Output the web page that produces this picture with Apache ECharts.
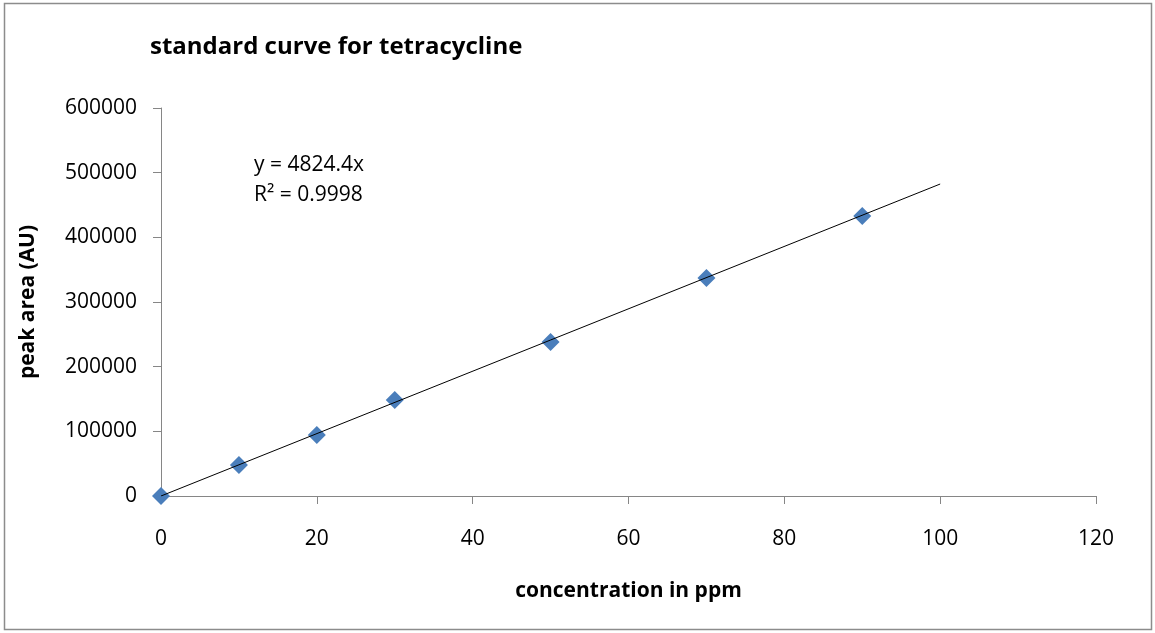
<!DOCTYPE html>
<html>
<head>
<meta charset="utf-8">
<script src="https://cdn.jsdelivr.net/npm/echarts@6/dist/echarts.min.js"></script>
<style>
html,body{margin:0;padding:0;background:#fff;}
#chart{width:1155px;height:633px;}
</style>
</head>
<body>
<div id="chart"></div>
<script>
// concentration (ppm) and peak area (AU)
var concentration = [0, 10, 20, 30, 50, 70, 90];
var peakArea = [0, 47900, 94300, 148400, 238100, 337100, 433000];
var slope = 4824.4;
var rSquared = 0.9998;
var trendX = [0, 100];

var points = [];
for (var i = 0; i < concentration.length; i++) {
    points.push([concentration[i], peakArea[i]]);
}
var trend = [];
for (var j = 0; j < trendX.length; j++) {
    trend.push([trendX[j], slope * trendX[j]]);
}

var font = '"Open Sans", "Liberation Sans", sans-serif';
var myChart = echarts.init(document.getElementById('chart'));
var option = {
    backgroundColor: '#fff',
    animation: false,
    title: {
        text: 'standard curve for tetracycline',
        left: 145,
        top: 30,
        textStyle: {fontFamily: font, fontSize: 24, fontWeight: 'bold', color: '#000'}
    },
    grid: {left: 161, right: 59, top: 108, bottom: 137},
    xAxis: {
        type: 'value',
        min: 0, max: 120, interval: 20,
        name: 'concentration in ppm',
        nameLocation: 'middle',
        nameGap: 85,
        nameTextStyle: {fontFamily: font, fontSize: 21, fontWeight: 'bold', color: '#000'},
        axisLine: {show: true, lineStyle: {color: '#868686'}},
        axisTick: {show: true, length: 8, lineStyle: {color: '#868686'}},
        axisLabel: {fontFamily: font, fontSize: 21, color: '#000', margin: 33},
        splitLine: {show: false}
    },
    yAxis: {
        type: 'value',
        min: 0, max: 600000, interval: 100000,
        name: 'peak area (AU)',
        nameLocation: 'middle',
        nameGap: 122,
        nameTextStyle: {fontFamily: font, fontSize: 21, fontWeight: 'bold', color: '#000'},
        axisLine: {show: true, lineStyle: {color: '#868686'}},
        axisTick: {show: true, length: 8, lineStyle: {color: '#868686'}},
        axisLabel: {fontFamily: font, fontSize: 21, color: '#000', margin: 24,
            formatter: function (v) { return String(v); }},
        splitLine: {show: false}
    },
    graphic: [
        {
            type: 'rect',
            shape: {x: 4.5, y: 3.5, width: 1147, height: 626},
            style: {fill: null, stroke: '#8c8c8c', lineWidth: 1.5},
            silent: true
        },
        {
            type: 'text',
            left: 254,
            top: 150,
            style: {
                text: 'y = ' + slope + 'x\nR² = ' + rSquared,
                fontFamily: font, fontSize: 21, lineHeight: 30, fill: '#000'
            }
        }
    ],
    series: [
        {
            type: 'line',
            data: trend,
            symbol: 'none',
            lineStyle: {color: '#000', width: 1},
            z: 3
        },
        {
            type: 'scatter',
            data: points,
            symbol: 'diamond',
            symbolSize: [18, 18],
            itemStyle: {color: '#4A7EBB', opacity: 1},
            z: 2
        }
    ]
};
myChart.setOption(option);
</script>
</body>
</html>
